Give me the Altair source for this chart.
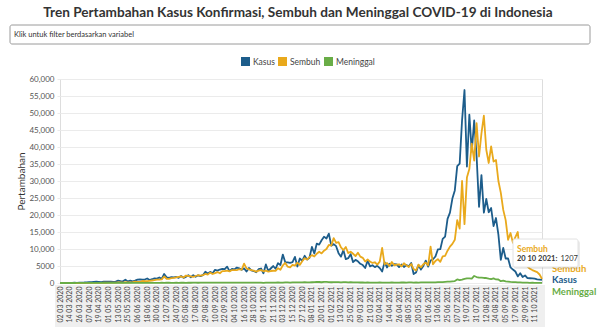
import altair as alt
import pandas as pd

# Daily additions sampled every 3 days, 02 03 2020 .. 20 10 2021
start_date = "2020-03-02"
step = "3D"

kasus = [
    2, 0, 2, 15, 27, 38, 81, 64, 103, 130,
    149, 196, 247, 219, 316, 380, 327, 283, 396, 415,
    433, 395, 338, 387, 689, 529, 486, 973, 479, 687,
    467, 684, 993, 1043, 979, 1017, 1331, 862, 1113, 1385,
    1293, 1624, 1209, 2657, 1681, 1522, 1752, 1655, 1761, 1525,
    2040, 1519, 1815, 2277, 1693, 2307, 1821, 2266, 2037, 2306,
    3308, 2775, 3269, 2880, 3861, 3636, 3963, 4168, 4071, 4823,
    3509, 4174, 3992, 4538, 4294, 3906, 4301, 3373, 4432, 3732,
    3520, 3143, 4065, 4262, 2853, 5444, 3535, 4265, 4998, 4192,
    5828, 5313, 8369, 6089, 6058, 5942, 6120, 7689, 4854, 7199,
    6528, 8002, 6877, 7445, 10617, 8692, 11557, 11287, 12568, 13632,
    13094, 14518, 10994, 11434, 10827, 8776, 7750, 9686, 7000, 7300,
    8493, 6138, 6808, 6390, 5658, 5270, 4417, 6570, 4885, 5227,
    4663, 5064, 4384, 3350, 6142, 4576, 5656, 5041, 5549, 5497,
    4656, 5443, 4720, 5285, 4891, 5868, 2633, 3080, 5246, 3942,
    5034, 6565, 4824, 6594, 6993, 7800, 9868, 9944, 12990, 13668,
    18872, 20694, 24836, 27233, 34379, 35094, 47899, 56757, 34257, 49509,
    38679, 47791, 37284, 22404, 31753, 20709, 24709, 20813, 22053, 16744,
    19106, 14224, 6800, 10337, 7201, 7200, 4585, 3948, 3385, 1932,
    2881, 1760, 2234, 1414, 1404, 1384, 1261, 1053, 1000, 914,
]

sembuh = [
    0, 0, 0, 0, 0, 1, 2, 3, 7, 12,
    9, 13, 16, 30, 26, 42, 27, 40, 90, 74,
    81, 95, 128, 109, 205, 182, 133, 228, 197, 173,
    274, 408, 354, 342, 591, 556, 537, 630, 731, 828,
    1006, 963, 1071, 1904, 1245, 1230, 1409, 1510, 1687, 1820,
    1908, 1624, 2189, 2092, 1936, 1823, 2055, 2281, 2176, 2308,
    2651, 2460, 3049, 2653, 2917, 3218, 2858, 3511, 3509, 3624,
    3398, 3803, 3770, 3810, 4039, 3908, 5700, 4306, 3994, 3783,
    3648, 3326, 3618, 3779, 3440, 3656, 3361, 3526, 3608, 3540,
    4360, 3882, 5200, 5900, 4800, 4585, 5300, 5112, 6000, 5300,
    6400, 7300, 6900, 7600, 8200, 7800, 8600, 9200, 8700, 9500,
    10000, 11200, 11000, 13200, 11800, 12000, 10500, 9700, 10600, 8800,
    9200, 8600, 7900, 8900, 7750, 7400, 6300, 6900, 6300, 5900,
    6100, 5400, 6300, 10300, 5500, 5900, 5000, 6200, 5200, 5400,
    5500, 4900, 5800, 5200, 4700, 5600, 4100, 3700, 5400, 4600,
    5500, 6000, 5200, 10700, 5500, 6500, 7000, 6200, 7800, 8000,
    9500, 10700, 11500, 12700, 18500, 16000, 30000, 17300, 31000, 33500,
    41000, 36000, 47000, 37200, 44000, 49200, 39200, 35300, 40200, 35700,
    36200, 30000, 26500, 21500, 18500, 12700, 14700, 11800, 13500, 15000,
    7700, 6300, 5500, 4800, 4200, 3800, 3500, 3200, 2500, 1207,
]

meninggal = [
    0, 0, 0, 0, 1, 2, 7, 8, 15, 8,
    21, 15, 12, 40, 26, 27, 47, 19, 27, 22,
    31, 14, 35, 14, 21, 21, 30, 29, 35, 24,
    40, 35, 47, 32, 35, 38, 34, 58, 63, 41,
    56, 60, 70, 58, 71, 87, 65, 58, 139, 62,
    74, 83, 65, 69, 79, 83, 105, 69, 86, 86,
    92, 100, 100, 82, 111, 94, 135, 106, 128, 112,
    87, 116, 96, 118, 105, 100, 123, 105, 104, 103,
    91, 100, 89, 105, 65, 101, 96, 110, 109, 101,
    169, 130, 117, 186, 171, 137, 181, 171, 164, 155,
    171, 228, 185, 187, 224, 250, 306, 298, 220, 346,
    336, 264, 227, 269, 244, 257, 201, 252, 250, 207,
    264, 160, 201, 169, 147, 146, 136, 172, 125, 133,
    137, 128, 157, 113, 119, 125, 112, 143, 114, 132,
    104, 144, 168, 137, 185, 187, 118, 152, 125, 160,
    183, 162, 167, 164, 173, 199, 250, 275, 271, 355,
    415, 423, 504, 555, 1040, 826, 991, 1205, 1338, 1383,
    1266, 2069, 1759, 1598, 1588, 1475, 1466, 1270, 1128, 1348,
    1038, 1030, 536, 685, 460, 401, 334, 287, 239, 166,
    175, 134, 137, 105, 66, 103, 52, 51, 43, 43,
]

series_names = ["Kasus", "Sembuh", "Meninggal"]
series_colors = ["#1d5d8b", "#e9a91c", "#69ad47"]
y_ticks = list(range(0, 60001, 5000))
x_tick_dates = pd.date_range("2020-03-02", "2021-10-12", freq="12D")

title_text = "Tren Pertambahan Kasus Konfirmasi, Sembuh dan Meninggal COVID-19 di Indonesia"
filter_text = "Klik untuk filter berdasarkan variabel"
y_title = "Pertambahan"

FONT = "Lato"
W, H = 482, 204

dates = pd.date_range(start_date, periods=len(kasus), freq=step)
wide = pd.DataFrame({"tanggal": dates, "Kasus": kasus, "Sembuh": sembuh, "Meninggal": meninggal})
long = wide.melt(id_vars="tanggal", var_name="seri", value_name="jumlah")

color_scale = alt.Scale(domain=series_names, range=series_colors)
x_enc = alt.X(
    "tanggal:T",
    scale=alt.Scale(domain=[alt.DateTime(year=2020, month=3, date=2),
                            alt.DateTime(year=2021, month=10, date=20)], nice=False),
    axis=alt.Axis(
        values=[alt.DateTime(year=d.year, month=d.month, date=d.day) for d in x_tick_dates],
        format="%d %m %Y", labelAngle=270, labelFontSize=7, labelColor="#444",
        labelFont=FONT, labelPadding=3, ticks=False, domain=False, grid=False,
        labelOverlap=False, title=None, zindex=1,
    ),
)
y_enc = alt.Y(
    "jumlah:Q",
    scale=alt.Scale(domain=[0, 60000], nice=False),
    axis=alt.Axis(
        values=y_ticks,
        labelExpr="datum.value == 5000 ? '5000' : format(datum.value, ',')",
        labelFontSize=8, labelColor="#555", labelFont=FONT, labelPadding=3,
        tickSize=3, tickColor="#ebebeb", domain=False, grid=True,
        gridColor="#ebebeb", gridWidth=1,
        title=y_title, titleFont=FONT, titleFontSize=10, titleFontWeight="normal",
        titleColor="#333", titleX=-34, titleY=H / 2, titleAngle=270,
    ),
)

one = pd.DataFrame({"a": [0]})

# grey strip behind the date labels
label_strip = alt.Chart(one).mark_rect(fill="#efefef", clip=False).encode(
    x=alt.value(-5), x2=alt.value(W + 3), y=alt.value(H + 2), y2=alt.value(H + 46))

lines = alt.Chart(long).mark_line(strokeWidth=1.8, strokeJoin="round").encode(
    x=x_enc,
    y=y_enc,
    color=alt.Color(
        "seri:N", scale=color_scale,
        legend=alt.Legend(
            title=None, orient="none", direction="horizontal", gridAlign="none",
            legendX=181, legendY=-22, symbolType="square", symbolSize=4,
            symbolStrokeWidth=7, labelFont=FONT, labelFontSize=8.5, labelColor="#444",
            labelOffset=3, columnPadding=-8,
        ),
    ),
)

last = long[long["tanggal"] == dates[-1]]
end_offsets = {"Sembuh": -10, "Kasus": 0, "Meninggal": 9}
end_labels = [
    alt.Chart(last[last["seri"] == name]).mark_text(
        align="left", baseline="middle", dx=10, dy=end_offsets[name],
        font=FONT, fontSize=9.5, fontWeight="bold", color=col, clip=False,
    ).encode(x=x_enc, y=y_enc, text="seri:N")
    for name, col in zip(series_names, series_colors)
]

title = alt.Chart(pd.DataFrame({"t": [title_text]})).mark_text(
    font=FONT, fontSize=13.6, fontWeight="bold", color="#333", baseline="middle", align="center"
).encode(text="t:N", x=alt.value(238), y=alt.value(-66))

filter_box = alt.Chart(one).mark_rect(
    fill="white", stroke="#9a9a9a", strokeWidth=1, cornerRadius=2
).encode(x=alt.value(-50), x2=alt.value(530), y=alt.value(-54), y2=alt.value(-35))
filter_label = alt.Chart(pd.DataFrame({"t": [filter_text]})).mark_text(
    font=FONT, fontSize=7.5, color="#333", align="left", baseline="middle"
).encode(text="t:N", x=alt.value(-46), y=alt.value(-44.5))

# hover card for the last Sembuh value
sb_last = last[last["seri"] == "Sembuh"].copy()
sb_last["tgl"] = sb_last["tanggal"].dt.strftime("%d %m %Y") + ":"
card_shadow = alt.Chart(one).mark_rect(fill="#000", opacity=0.08, cornerRadius=2).encode(
    x=alt.value(454), x2=alt.value(520), y=alt.value(162), y2=alt.value(190))
card = alt.Chart(one).mark_rect(fill="white", stroke="#e2e2e2", cornerRadius=2).encode(
    x=alt.value(453), x2=alt.value(518), y=alt.value(160), y2=alt.value(188))
card_name = alt.Chart(sb_last).mark_text(
    font=FONT, fontSize=8.5, fontWeight="bold", color=series_colors[1], align="left", baseline="middle"
).encode(text="seri:N", x=alt.value(457), y=alt.value(170))
card_date = alt.Chart(sb_last).mark_text(
    font=FONT, fontSize=7.5, fontWeight="bold", color="#333", align="left", baseline="middle"
).encode(text="tgl:N", x=alt.value(457), y=alt.value(180))
card_value = alt.Chart(sb_last).mark_text(
    font=FONT, fontSize=7.5, color="#333", align="left", baseline="middle"
).encode(text="jumlah:Q", x=alt.value(500.5), y=alt.value(180))

chart = alt.layer(
    label_strip, lines, *end_labels, title, filter_box, filter_label,
    card_shadow, card, card_name, card_date, card_value,
).properties(
    width=W, height=H,
    padding={"left": 60, "top": 79, "right": 58, "bottom": 44},
    autosize=alt.AutoSizeParams(type="none"),
).configure_view(stroke=None).configure(background="white")

chart.save("out.html", embed_options={"renderer": "svg", "actions": False})
